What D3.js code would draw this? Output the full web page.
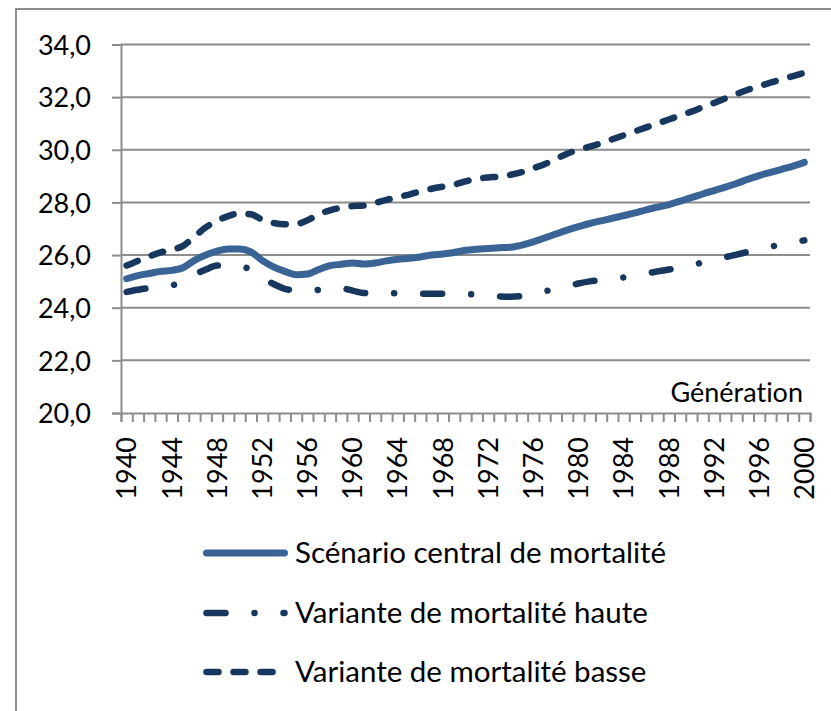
<!DOCTYPE html>
<html>
<head>
<meta charset="utf-8">
<script src="https://cdn.jsdelivr.net/npm/d3@7"></script>
<style>
  html, body { margin: 0; padding: 0; background: #fff; }
  svg { display: block; }
  text { font-family: Lato, "Open Sans", sans-serif; fill: #000; font-variant-ligatures: none; }
</style>
</head>
<body>
<svg id="chart" width="831" height="711"></svg>
<script>
// ---------- DATA ----------
const years = d3.range(1940, 2001);
const yTicks = [20, 22, 24, 26, 28, 30, 32, 34];
const xLabelYears = d3.range(1940, 2001, 4);

const central = [
  25.10, 25.22, 25.30, 25.38, 25.42, 25.52, 25.80, 26.00, 26.15, 26.23,
  26.23, 26.12, 25.80, 25.55, 25.38, 25.25, 25.28, 25.45, 25.60, 25.65,
  25.70, 25.66, 25.70, 25.78, 25.84, 25.88, 25.93, 26.00, 26.04, 26.10,
  26.18, 26.22, 26.25, 26.28, 26.30, 26.38, 26.50, 26.65, 26.80, 26.95,
  27.08, 27.20, 27.30, 27.40, 27.50, 27.60, 27.72, 27.82, 27.92, 28.05,
  28.18, 28.32, 28.45, 28.58, 28.72, 28.88, 29.02, 29.14, 29.26, 29.38,
  29.52
];
const haute = [
  24.60, 24.68, 24.75, 24.80, 24.85, 25.00, 25.25, 25.45, 25.60, 25.62,
  25.58, 25.45, 25.15, 24.90, 24.72, 24.65, 24.62, 24.68, 24.73, 24.74,
  24.65, 24.56, 24.55, 24.55, 24.55, 24.54, 24.53, 24.53, 24.53, 24.53,
  24.52, 24.50, 24.47, 24.43, 24.42, 24.45, 24.52, 24.62, 24.72, 24.82,
  24.92, 25.00, 25.05, 25.08, 25.15, 25.22, 25.30, 25.38, 25.45, 25.53,
  25.62, 25.72, 25.82, 25.92, 26.02, 26.12, 26.22, 26.32, 26.40, 26.48,
  26.56
];
const basse = [
  25.60, 25.78, 25.95, 26.10, 26.20, 26.35, 26.70, 27.05, 27.30, 27.48,
  27.58, 27.55, 27.35, 27.22, 27.17, 27.18, 27.32, 27.55, 27.70, 27.80,
  27.86, 27.88, 27.98, 28.10, 28.20, 28.30, 28.42, 28.52, 28.60, 28.68,
  28.80, 28.90, 28.95, 28.98, 29.05, 29.15, 29.30, 29.45, 29.65, 29.85,
  30.00, 30.12, 30.25, 30.40, 30.55, 30.70, 30.85, 31.00, 31.15, 31.30,
  31.45, 31.62, 31.78, 31.95, 32.12, 32.28, 32.42, 32.55, 32.68, 32.80,
  32.92
];
const seriesNames = [
  "Scénario central de mortalité",
  "Variante de mortalité haute",
  "Variante de mortalité basse"
];
const xTitle = "Génération";

// ---------- STYLE ----------
const colors = ["#3a6496", "#17375e", "#17375e"];
const dashes = [null, "19,29,0.01,29", "12,15"];
const widths = [7, 6.5, 6.5];
const gridColor = "#8c8c8c";

// ---------- LAYOUT ----------
const svg = d3.select("#chart");
const plotL = 121, plotR = 810, plotT = 44.5, plotB = 413;

// frame
svg.append("path")
  .attr("d", `M16,711 L16,9 L831,9`)
  .attr("fill", "none").attr("stroke", gridColor).attr("stroke-width", 2);

const x = d3.scaleBand().domain(years).range([plotL, plotR]).padding(0);
const xc = d => x(d) + x.bandwidth() / 2;
const y = d3.scaleLinear().domain([20, 34]).range([plotB, plotT]);

// gridlines
svg.append("g")
  .selectAll("line").data(yTicks.filter(t => t > 20)).join("line")
  .attr("x1", plotL).attr("x2", plotR)
  .attr("y1", d => y(d)).attr("y2", d => y(d))
  .attr("stroke", gridColor).attr("stroke-width", 2);

// y axis
const fmt = d => d3.format(".1f")(d).replace(".", ",");
const yAxis = svg.append("g").attr("transform", `translate(${plotL},0)`)
  .call(d3.axisLeft(y).tickValues(yTicks).tickFormat(fmt).tickSize(9).tickPadding(21));
yAxis.select(".domain").attr("stroke", gridColor).attr("stroke-width", 2);
yAxis.selectAll(".tick line").attr("stroke", gridColor).attr("stroke-width", 2);
yAxis.selectAll(".tick text").style("font-size", "27px").attr("dy", "0.36em");

// x axis tick marks at band boundaries
const xi = d3.scaleLinear().domain([0, years.length]).range([plotL, plotR]);
const xAxisTicks = svg.append("g").attr("transform", `translate(0,${plotB})`)
  .call(d3.axisBottom(xi).tickValues(d3.range(0, years.length + 1)).tickSize(9).tickFormat(""));
xAxisTicks.select(".domain").attr("stroke", gridColor).attr("stroke-width", 2);
xAxisTicks.selectAll(".tick line").attr("stroke", gridColor).attr("stroke-width", 2);

// x labels
const xLab = svg.append("g").attr("transform", `translate(0,${plotB})`)
  .call(d3.axisBottom(x).tickValues(xLabelYears).tickSize(0).tickFormat(d => String(d)));
xLab.select(".domain").remove();
xLab.selectAll(".tick text")
  .style("font-size", "27px")
  .attr("text-anchor", "end")
  .attr("transform", "rotate(-90)")
  .attr("x", -24).attr("y", 0).attr("dy", "0.36em");

// axis title
svg.append("text").attr("x", 803).attr("y", 402)
  .attr("text-anchor", "end").style("font-size", "27px").text(xTitle);

// lines
const allSeries = [central, haute, basse];
const line = d3.line().x((d, i) => xc(years[i])).y(d => y(d)).curve(d3.curveMonotoneX);
[2, 1, 0].forEach(k => {
  svg.append("path").datum(allSeries[k])
    .attr("d", line)
    .attr("fill", "none")
    .attr("stroke", colors[k])
    .attr("stroke-width", widths[k])
    .attr("stroke-linecap", "round")
    .attr("stroke-linejoin", "round")
    .attr("stroke-dasharray", dashes[k]);
});

// legend
const legendY = [553, 613, 672];
const lg = svg.append("g");
seriesNames.forEach((name, k) => {
  lg.append("line")
    .attr("x1", 206.5).attr("x2", 284.5)
    .attr("y1", legendY[k]).attr("y2", legendY[k])
    .attr("stroke", colors[k]).attr("stroke-width", widths[k])
    .attr("stroke-linecap", "round")
    .attr("stroke-dasharray", dashes[k]);
  lg.append("text")
    .attr("x", 295).attr("y", legendY[k] + 10)
    .style("font-size", "29.5px")
    .text(name);
});
</script>
</body>
</html>
